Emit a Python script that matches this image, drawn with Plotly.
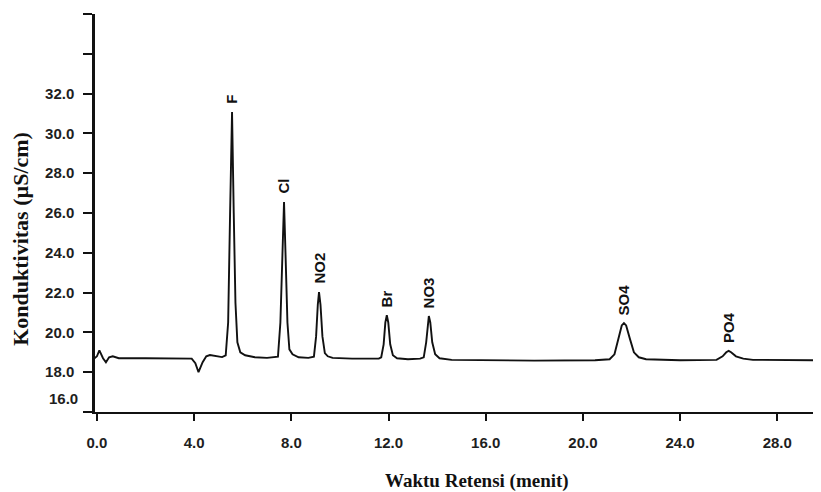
import plotly.graph_objects as go

# Chromatogram trace (time in minutes, conductivity in uS/cm)
waktu = [-0.1, 0.0, 0.1, 0.25, 0.37, 0.5, 0.65, 0.9, 2.0, 3.5, 3.9, 4.05, 4.18, 4.35, 4.5, 4.65, 4.9, 5.15, 5.3,
         5.4, 5.48, 5.56, 5.63, 5.7, 5.78, 5.9, 6.1, 6.5, 7.0,
         7.45, 7.55, 7.63, 7.70, 7.76, 7.84, 7.92, 8.05, 8.3, 8.7,
         8.93, 9.02, 9.09, 9.14, 9.2, 9.28, 9.38, 9.5, 9.7, 10.5, 11.6,
         11.7, 11.8, 11.87, 11.93, 11.99, 12.07, 12.18, 12.35, 12.8, 13.3,
         13.45, 13.55, 13.61, 13.66, 13.72, 13.8, 13.92, 14.1, 14.6, 16.0, 18.0, 20.5,
         21.1, 21.3, 21.45, 21.6, 21.69, 21.78, 21.93, 22.1, 22.3, 22.6, 24.0, 25.2,
         25.5, 25.75, 25.9, 26.0, 26.1, 26.3, 26.6, 27.0, 28.0, 29.9]
konduktivitas = [18.7, 18.8, 19.1, 18.7, 18.5, 18.75, 18.8, 18.7, 18.7, 18.7, 18.68, 18.45, 18.0, 18.5, 18.8, 18.86,
                 18.8, 18.76, 18.85,
                 20.5, 26.0, 31.07, 26.0, 21.5, 19.5, 19.0, 18.85, 18.75, 18.72,
                 18.78, 20.5, 24.0, 26.55, 24.0, 20.5, 19.15, 18.9, 18.75, 18.72,
                 18.78, 19.8, 21.4, 22.03, 21.4, 19.8, 18.96, 18.8, 18.72, 18.68, 18.68,
                 18.75, 19.4, 20.5, 20.87, 20.5, 19.4, 18.85, 18.7, 18.65, 18.68,
                 18.75, 19.5, 20.5, 20.82, 20.5, 19.5, 18.9, 18.7, 18.62, 18.6, 18.58, 18.6,
                 18.65, 18.9, 19.7, 20.35, 20.47, 20.35, 19.7, 19.0, 18.75, 18.65, 18.6, 18.6,
                 18.62, 18.8, 19.0, 19.07, 19.0, 18.8, 18.68, 18.62, 18.6, 18.6]

# Peak labels
ion_labels = ["F", "Cl", "NO2", "Br", "NO3", "SO4", "PO4"]
ion_waktu = [5.56, 7.70, 9.14, 11.93, 13.66, 21.69, 26.0]
ion_puncak = [31.07, 26.55, 22.03, 20.87, 20.82, 20.47, 19.07]

y_ticks = [16, 18, 20, 22, 24, 26, 28, 30, 32, 34, 36]
y_ticktext = ["", "18.0", "20.0", "22.0", "24.0", "26.0", "28.0", "30.0", "32.0", "", ""]
x_ticks = [0, 4, 8, 12, 16, 20, 24, 28]
x_ticktext = ["0.0", "4.0", "8.0", "12.0", "16.0", "20.0", "24.0", "28.0"]

fig = go.Figure()
fig.add_trace(go.Scatter(x=waktu, y=konduktivitas, mode="lines",
                         line=dict(color="#111111", width=1.9), hoverinfo="skip", showlegend=False))

tickfont = dict(family="Liberation Sans Narrow, Arial Narrow, Liberation Sans, sans-serif", size=15,
                color="#1e1e1e", weight="bold")

for lab, xv, yv in zip(ion_labels, ion_waktu, ion_puncak):
    fig.add_annotation(x=xv, y=yv, text=lab, textangle=-90, showarrow=False,
                       xanchor="center", yanchor="bottom", yshift=6,
                       font=dict(family="Liberation Sans, Arial, sans-serif", size=15, color="#111111",
                                 weight="bold"))

# the 16.0 label sits slightly above its tick in the original
fig.add_annotation(x=0, xref="paper", y=16.7, yref="y", text="16.0", showarrow=False,
                   xanchor="right", xshift=-15, font=tickfont)

fig.add_annotation(x=-0.102, xref="paper", y=0.435, yref="paper", text="<b>Konduktivitas (µS/cm)</b>",
                   textangle=-90, showarrow=False, xanchor="center", yanchor="middle",
                   font=dict(family="Liberation Serif, Times New Roman, serif", size=22, color="#111111"))
fig.add_annotation(x=0.526, xref="paper", y=-0.173, yref="paper", text="<b>Waktu Retensi (menit)</b>",
                   showarrow=False, xanchor="center", yanchor="middle",
                   font=dict(family="Liberation Serif, Times New Roman, serif", size=19, color="#111111"))

fig.update_xaxes(range=[-0.08, 29.8], tickvals=x_ticks, ticktext=x_ticktext, ticks="outside",
                 ticklen=7, tickwidth=2, tickcolor="#111111", showline=True, linecolor="#111111",
                 linewidth=2, showgrid=False, zeroline=False, tickfont=tickfont, ticklabelstandoff=9,
                 automargin=False)
fig.update_yaxes(range=[16, 36], tickvals=y_ticks, ticktext=y_ticktext, ticks="outside",
                 ticklen=9, tickwidth=2, tickcolor="#111111", showline=True, linecolor="#111111",
                 linewidth=2.5, showgrid=False, zeroline=False, tickfont=tickfont, ticklabelstandoff=6,
                 automargin=False)

# page body has an 8px default margin, so the figure is sized/offset to land on the reference pixels
fig.update_layout(width=813, height=484, margin=dict(l=87, r=0, t=6, b=80),
                  plot_bgcolor="white", paper_bgcolor="white", showlegend=False)

fig.write_html("out.html")
